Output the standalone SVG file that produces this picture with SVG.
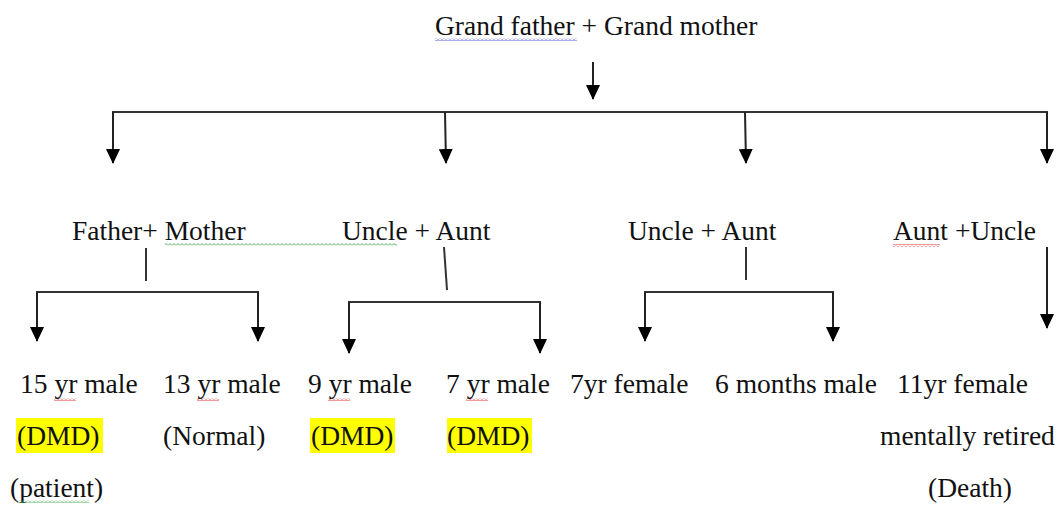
<svg xmlns="http://www.w3.org/2000/svg" width="1061" height="505" viewBox="0 0 1061 505">
<style>
text{font-family:"Liberation Serif","Times New Roman",serif;font-size:27.5px;fill:#111}
.ln{stroke:#333;stroke-width:2;fill:none}
.ar{stroke:#222;stroke-width:2;fill:none;marker-end:url(#ah)}
.hl{fill:#ffff00}
</style>
<defs>
<marker id="ah" viewBox="0 0 15 14" refX="14" refY="7" markerWidth="15" markerHeight="14" markerUnits="userSpaceOnUse" orient="auto">
<path d="M0 0 L15 7 L0 14 Z" fill="#000"/>
</marker>
<pattern id="sqB" width="4" height="3" patternUnits="userSpaceOnUse"><polyline points="0,2.5 2,0.5 4,2.5" fill="none" stroke="#5b5bd6" stroke-width="1"/></pattern>
<pattern id="sqG" width="4" height="3" patternUnits="userSpaceOnUse"><polyline points="0,2.5 2,0.5 4,2.5" fill="none" stroke="#4caf50" stroke-width="1"/></pattern>
<pattern id="sqR" width="4" height="3" patternUnits="userSpaceOnUse"><polyline points="0,2.5 2,0.5 4,2.5" fill="none" stroke="#e53935" stroke-width="1"/></pattern>
</defs>
<rect width="1061" height="505" fill="#fff"/>

<g id="connectors">
<line class="ar" x1="593" y1="62" x2="593" y2="99"/>
<line class="ln" x1="112" y1="112" x2="1048" y2="112"/>
<line class="ar" x1="113" y1="112" x2="113" y2="163"/>
<line class="ar" x1="445" y1="112" x2="446" y2="163"/>
<line class="ar" x1="745" y1="112" x2="746" y2="163"/>
<line class="ar" x1="1047" y1="112" x2="1047" y2="163"/>
<line class="ln" x1="146" y1="248" x2="146" y2="281"/>
<line class="ln" x1="36" y1="292" x2="259" y2="292"/>
<line class="ar" x1="37" y1="292" x2="37" y2="341"/>
<line class="ar" x1="258" y1="292" x2="258" y2="341"/>
<line class="ln" x1="444" y1="247" x2="447" y2="290"/>
<line class="ln" x1="348" y1="302" x2="541" y2="302"/>
<line class="ar" x1="349" y1="302" x2="349" y2="353"/>
<line class="ar" x1="540" y1="302" x2="540" y2="353"/>
<line class="ln" x1="746" y1="247" x2="746" y2="280"/>
<line class="ln" x1="644" y1="292" x2="834" y2="292"/>
<line class="ar" x1="645" y1="292" x2="645" y2="341"/>
<line class="ar" x1="833" y1="292" x2="833" y2="341"/>
<line class="ar" x1="1047" y1="247" x2="1047" y2="328"/>
</g>

<g id="grandparents"><text x="435" y="35">Grand father + Grand mother</text></g>
<g id="parents"><text x="72" y="240">Father+ Mother</text></g>
<g id="uncle-aunt-1"><text x="342" y="240">Uncle + Aunt</text></g>
<g id="uncle-aunt-2"><text x="628" y="240">Uncle + Aunt</text></g>
<g id="aunt-uncle-3"><text x="893" y="240">Aunt +Uncle</text></g>

<g id="child-15yr">
<rect class="hl" x="16" y="418" width="87" height="35"/>
<text x="20" y="393">15 yr male</text>
<text x="17" y="445">(DMD)</text>
<text x="10" y="497">(patient)</text>
</g>
<g id="child-13yr">
<text x="163" y="393">13 yr male</text>
<text x="163" y="445">(Normal)</text>
</g>
<g id="child-9yr">
<rect class="hl" x="310" y="418" width="85" height="35"/>
<text x="308" y="393">9 yr male</text>
<text x="311" y="445">(DMD)</text>
</g>
<g id="child-7yr">
<rect class="hl" x="447" y="418" width="85" height="35"/>
<text x="446" y="393">7 yr male</text>
<text x="447" y="445">(DMD)</text>
</g>
<g id="child-7yr-female"><text x="570" y="393">7yr female</text></g>
<g id="child-6months"><text x="715" y="393">6 months male</text></g>
<g id="child-11yr">
<text x="897" y="393">11yr female</text>
<text x="880" y="445">mentally retired</text>
<text x="928" y="497">(Death)</text>
</g>

<g id="squiggles">
<rect x="435" y="38" width="142" height="3" fill="url(#sqB)"/>
<rect x="165" y="243" width="232" height="3" fill="url(#sqG)"/>
<rect x="893" y="244" width="47" height="3" fill="url(#sqR)"/>
<rect x="54" y="398" width="22" height="3" fill="url(#sqR)"/>
<rect x="197" y="398" width="22" height="3" fill="url(#sqR)"/>
<rect x="328" y="398" width="22" height="3" fill="url(#sqR)"/>
<rect x="466" y="398" width="22" height="3" fill="url(#sqR)"/>
<rect x="19" y="500" width="70" height="3" fill="url(#sqG)"/>
</g>
</svg>
